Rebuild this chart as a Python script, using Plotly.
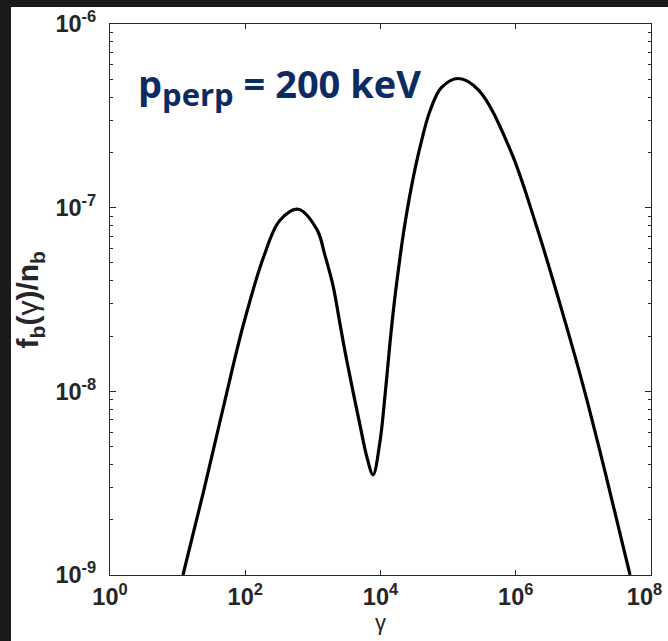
import plotly.graph_objects as go

# Values
gamma = [12.0, 24.0, 47.9, 93.3, 186, 324, 603, 1150, 1510, 2000, 2510, 3160,
         5010, 6310, 7760, 9770, 11750, 13800, 16200, 19500, 22900, 28800,
         38000, 53700, 79400, 141000, 282000, 832000, 2040000, 4470000, 1.0e7,
         2.24e7, 4.9e7]
f_b = [1.0e-9, 2.82e-9, 8.32e-9, 2.29e-8, 5.37e-8, 8.51e-8, 9.8e-8, 7.59e-8,
       5.5e-8, 3.72e-8, 2.34e-8, 1.48e-8, 6.46e-9, 4.37e-9, 3.51e-9, 5.25e-9,
       9.77e-9, 1.83e-8, 3.17e-8, 5.41e-8, 8.09e-8, 1.31e-7, 2.10e-7, 3.35e-7,
       4.50e-7, 5.05e-7, 4.37e-7, 2.06e-7, 7.87e-8, 3.02e-8, 1.06e-8, 3.29e-9,
       1.0e-9]

x_tick_vals = [1, 1e2, 1e4, 1e6, 1e8]
x_tick_text = ["10<sup>0</sup>", "10<sup>2</sup>", "10<sup>4</sup>", "10<sup>6</sup>",
               "10<sup>8</sup>&nbsp;&nbsp;"]
y_tick_vals = [1e-9, 1e-8, 1e-7, 1e-6]
y_tick_text = ["10<sup>-9</sup>", "10<sup>-8</sup>", "10<sup>-7</sup>", "10<sup>-6</sup>"]
x_range_exp = [0, 8]
y_range_exp = [-9, -6]
label_text = "<b>p<sub><span style='font-size:31px'>perp</span></sub> = 200 keV</b>"
x_title = "γ"
y_title = "<b>f<sub>b</sub>(</b>γ<b>)/n<sub>b</sub></b>"

fig = go.Figure()
fig.add_trace(go.Scatter(
    x=gamma, y=f_b, mode="lines",
    line=dict(color="black", width=3.2, shape="spline", smoothing=1),
    showlegend=False,
))

axcol = "#262626"
tickfont = dict(family="Liberation Sans, Arial", size=23.5, color=axcol, weight="bold")

fig.update_xaxes(
    type="log", range=x_range_exp,
    tickmode="array", tickvals=x_tick_vals, ticktext=x_tick_text,
    ticks="inside", ticklen=5, tickwidth=1, tickcolor=axcol,
    showline=True, linecolor=axcol, linewidth=1.3, mirror="ticks",
    showgrid=False, zeroline=False,
    tickfont=tickfont, ticklabelstandoff=1, ticklabeloverflow="allow",
    title=dict(text=x_title, font=dict(family="Liberation Sans, Arial", size=22, color=axcol),
               standoff=0),
)
fig.update_yaxes(
    type="log", range=y_range_exp,
    tickmode="array", tickvals=y_tick_vals, ticktext=y_tick_text,
    ticks="inside", ticklen=6, tickwidth=1, tickcolor=axcol,
    minor=dict(ticks="inside", ticklen=3, tickcolor=axcol, dtick="D1", showgrid=False),
    showline=True, linecolor=axcol, linewidth=1.3, mirror="ticks",
    showgrid=False, zeroline=False,
    tickfont=tickfont, ticklabelstandoff=8, ticklabeloverflow="allow",
)

# y-axis title placed as rotated text
fig.add_annotation(
    text=y_title, xref="paper", yref="paper",
    x=-0.148, y=0.5, xanchor="center", yanchor="middle", textangle=-90,
    showarrow=False,
    font=dict(family="Liberation Sans, Arial", size=30, color=axcol),
)

# white page area inside the dark frame (dark strip on top and left edges)
fig.add_shape(type="rect", xref="paper", yref="paper",
              x0=-0.183, x1=1.2, y0=-0.3, y1=1.0309,
              fillcolor="white", line=dict(width=0), layer="below")

fig.add_annotation(
    text=label_text, xref="paper", yref="paper",
    x=0.048, y=0.888, xanchor="left", yanchor="middle", showarrow=False,
    font=dict(family="Open Sans, Lato", size=38, color="#0d2b63"),
)

fig.update_layout(
    width=668, height=641,
    margin=dict(l=110, r=17, t=24, b=66, autoexpand=False),
    paper_bgcolor="#1a1a1a", plot_bgcolor="white",
)

fig.write_html(
    "out.html",
    config={"displayModeBar": False},
    post_script="document.body.style.margin='0';document.body.style.background='#1a1a1a';",
)
